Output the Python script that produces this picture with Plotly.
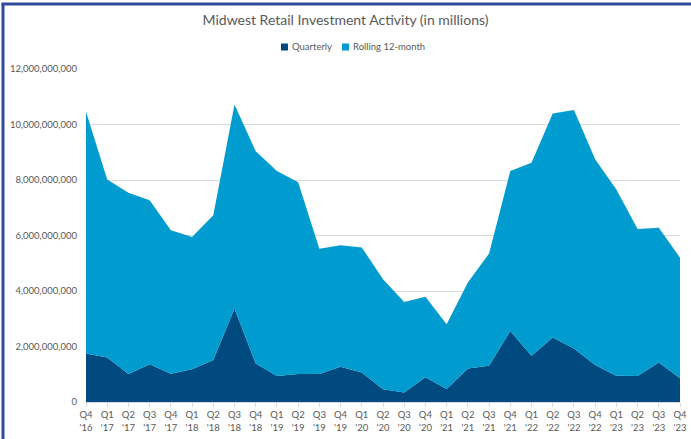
import plotly.graph_objects as go

quarters = ["Q4<br>'16", "Q1<br>'17", "Q2<br>'17", "Q3<br>'17", "Q4<br>'17",
            "Q1<br>'18", "Q2<br>'18", "Q3<br>'18", "Q4<br>'18",
            "Q1<br>'19", "Q2<br>'19", "Q3<br>'19", "Q4<br>'19",
            "Q1<br>'20", "Q2<br>'20", "Q3<br>'20", "Q4<br>'20",
            "Q1<br>'21", "Q2<br>'21", "Q3<br>'21", "Q4<br>'21",
            "Q1<br>'22", "Q2<br>'22", "Q3<br>'22", "Q4<br>'22",
            "Q1<br>'23", "Q2<br>'23", "Q3<br>'23", "Q4<br>'23"]

# values in billions of dollars
quarterly_bn = [1.75, 1.60, 1.01, 1.36, 1.02, 1.18, 1.51, 3.37, 1.39, 0.94, 1.01, 1.01, 1.27,
                1.06, 0.46, 0.34, 0.89, 0.47, 1.21, 1.31, 2.56, 1.67, 2.32, 1.93, 1.33,
                0.95, 0.94, 1.42, 0.86]
rolling_bn = [8.71, 6.42, 6.53, 5.91, 5.17, 4.77, 5.22, 7.35, 7.65, 7.38, 6.91, 4.51, 4.38,
              4.51, 3.96, 3.26, 2.90, 2.33, 3.10, 4.04, 5.76, 6.95, 8.08, 8.59, 7.42,
              6.71, 5.29, 4.86, 4.34]

series_names = ["Quarterly", "Rolling 12-month"]

quarterly = [v * 1e9 for v in quarterly_bn]
rolling = [v * 1e9 for v in rolling_bn]

DARK = "#004A80"
LIGHT = "#009BCF"
FONT = "Lato, 'Open Sans', sans-serif"
GRAY = "#595959"

fig = go.Figure()
fig.add_trace(go.Scatter(x=quarters, y=quarterly, name=series_names[0], stackgroup="one",
                         mode="lines", line=dict(width=0, color=DARK), fillcolor=DARK))
fig.add_trace(go.Scatter(x=quarters, y=rolling, name=series_names[1], stackgroup="one",
                         mode="lines", line=dict(width=0, color=LIGHT), fillcolor=LIGHT))

L, R, T, B = 86, 11, 69, 37
W, H = 691, 439
pw, ph = W - L - R, H - T - B

def px_x(p):
    return (p - L) / pw

def px_y(p):
    return (H - B - p) / ph

# manual legend (swatch squares + labels)
legend_items = [(series_names[0], DARK, 281), (series_names[1], LIGHT, 342)]
shapes = [
    dict(type="line", xref="paper", yref="paper",
         x0=px_x(3), x1=px_x(3), y0=px_y(445), y1=px_y(3.5),
         line=dict(color="#2F4B9B", width=3)),
    dict(type="line", xref="paper", yref="paper",
         x0=px_x(1.5), x1=px_x(700), y0=px_y(4), y1=px_y(4),
         line=dict(color="#2F4B9B", width=3)),
]
annotations = []
for name, col, x0 in legend_items:
    shapes.append(dict(type="rect", xref="paper", yref="paper",
                       x0=px_x(x0), x1=px_x(x0 + 7), y0=px_y(50.5), y1=px_y(43.5),
                       fillcolor=col, line=dict(width=0)))
    annotations.append(dict(text=name, xref="paper", yref="paper",
                            x=px_x(x0 + 8.5), y=px_y(47), xanchor="left", yanchor="middle",
                            showarrow=False, font=dict(size=9.5, color=GRAY, family=FONT)))

fig.update_layout(
    width=W, height=H,
    margin=dict(l=L, r=R, t=T, b=B),
    paper_bgcolor="white", plot_bgcolor="white",
    font=dict(family=FONT, color=GRAY),
    title=dict(text="Midwest Retail Investment Activity (in millions)",
               x=0.5, xanchor="center", xref="container",
               y=1 - 20 / H, yanchor="middle", yref="container",
               font=dict(size=14, color=GRAY, family=FONT)),
    showlegend=False,
    xaxis=dict(type="category", range=[0, len(quarters) - 1], automargin=False,
               showgrid=False, showline=True, linecolor="#D9D9D9", linewidth=1,
               ticks="outside", ticklen=4, tickcolor="#D9D9D9",
               tickfont=dict(size=9.5, color=GRAY), tickangle=0, fixedrange=True),
    yaxis=dict(range=[0, 12e9], dtick=2e9, tickformat=",d", automargin=False,
               showgrid=True, gridcolor="#D9D9D9", gridwidth=1,
               zeroline=False, showline=False, ticks="",
               tickfont=dict(size=9.5, color=GRAY), ticklabelstandoff=8),
    shapes=shapes,
    annotations=annotations,
)

fig.write_html("out.html")
